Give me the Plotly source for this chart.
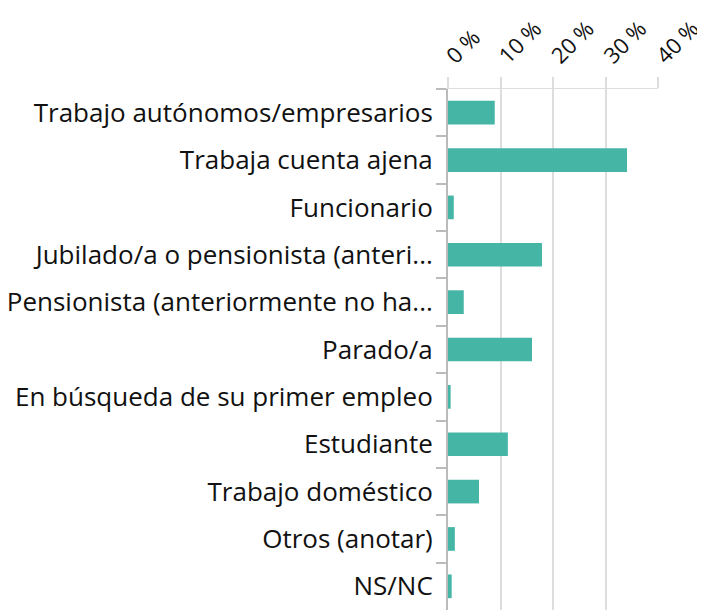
import plotly.graph_objects as go

categories = [
    "Trabajo autónomos/empresarios",
    "Trabaja cuenta ajena",
    "Funcionario",
    "Jubilado/a o pensionista (anteri...",
    "Pensionista (anteriormente no ha...",
    "Parado/a",
    "En búsqueda de su primer empleo",
    "Estudiante",
    "Trabajo doméstico",
    "Otros (anotar)",
    "NS/NC",
]
values = [8.9, 34.1, 1.1, 17.9, 3.0, 16.0, 0.5, 11.4, 5.9, 1.3, 0.7]
tick_vals = [0, 10, 20, 30, 40]
tick_text = ["0 %", "10 %", "20 %", "30 %", "40 %"]

FONT = "Open Sans"

fig = go.Figure(
    go.Bar(
        x=values,
        y=categories,
        orientation="h",
        marker=dict(color="#45b5a5", line=dict(width=0)),
        width=0.5,
    )
)

fig.update_layout(
    width=697,
    height=602,
    margin=dict(l=440, r=47, t=81, b=0, autoexpand=False),
    paper_bgcolor="white",
    plot_bgcolor="white",
    font=dict(family=FONT, size=26, color="#111"),
    showlegend=False,
    bargap=0.5,
)

fig.update_xaxes(
    side="top",
    range=[0, 40],
    tickvals=tick_vals,
    ticktext=tick_text,
    tickangle=-45,
    tickfont=dict(family=FONT, size=22, color="#111"),
    ticklabeloverflow="allow",
    showgrid=True,
    gridcolor="#dddddd",
    gridwidth=2,
    ticks="outside",
    ticklen=11,
    tickcolor="#dddddd",
    tickwidth=2,
    showline=True,
    linecolor="#dddddd",
    linewidth=1,
    zeroline=False,
    automargin=False,
    fixedrange=True,
)

fig.update_yaxes(
    categoryorder="array",
    categoryarray=categories,
    autorange="reversed",
    tickson="boundaries",
    ticks="outside",
    ticklen=10,
    tickcolor="#bbbbbb",
    tickwidth=2,
    showline=True,
    linecolor="#bbbbbb",
    linewidth=2,
    showgrid=False,
    automargin=False,
    ticklabelstandoff=8,
    tickfont=dict(family=FONT, size=26, color="#111"),
    fixedrange=True,
)

fig.write_html("out.html")
